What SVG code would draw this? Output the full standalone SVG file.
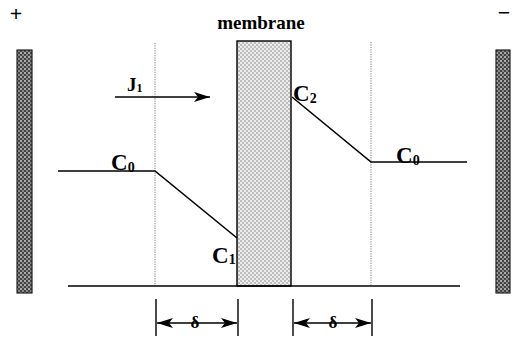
<svg xmlns="http://www.w3.org/2000/svg" width="514" height="344" viewBox="0 0 514 344">
<style>
.t{font-family:"Liberation Serif","Times New Roman",serif;font-weight:bold;fill:#000}
.ln{stroke:#000;stroke-width:1.6;fill:none}
.dot{stroke:#555;stroke-width:0.8;stroke-dasharray:1.2 1.2;fill:none}
.tk{stroke:#000;stroke-width:1.4}
</style>
<defs>
<pattern id="memb" width="4" height="4" patternUnits="userSpaceOnUse">
<rect width="4" height="4" fill="#ececec"/>
<circle cx="1" cy="1" r="0.65" fill="#666"/>
<circle cx="3" cy="3" r="0.65" fill="#666"/>
</pattern>
<pattern id="elec" width="4" height="4" patternUnits="userSpaceOnUse">
<rect width="4" height="4" fill="#444"/>
<circle cx="1" cy="1" r="1" fill="#ccc"/>
<circle cx="3" cy="3" r="0.9" fill="#aaa"/>
</pattern>
<marker id="ah" viewBox="0 0 16 10" refX="16" refY="5" markerWidth="16" markerHeight="10" markerUnits="userSpaceOnUse" orient="auto-start-reverse">
<path d="M0,0 L16,5 L0,10 L4,5 Z" fill="#000"/>
</marker>
</defs>

<g id="electrode-plus">
<rect x="17" y="50" width="15" height="243" fill="url(#elec)" stroke="#222" stroke-width="1.2"/>
<text class="t" x="16" y="21" font-size="22" text-anchor="middle">+</text>
</g>
<g id="electrode-minus">
<rect x="496" y="50" width="14" height="243" fill="url(#elec)" stroke="#222" stroke-width="1.2"/>
<text class="t" x="504" y="20" font-size="22" text-anchor="middle">−</text>
</g>

<g id="boundary-layers">
<line class="dot" x1="155" y1="43" x2="155" y2="286"/>
<line class="dot" x1="371" y1="42" x2="371" y2="286"/>
</g>

<g id="membrane">
<rect x="237" y="41" width="54" height="245" fill="url(#memb)" stroke="#000" stroke-width="1.4"/>
<text class="t" x="261" y="29" font-size="19" text-anchor="middle">membrane</text>
</g>

<g id="connectors">
<line class="ln" x1="68" y1="286" x2="460" y2="286"/>
<polyline class="ln" points="58,171 155,171 237,238"/>
<polyline class="ln" points="292,97 371,162 467,162"/>
<line class="ln" x1="115" y1="97" x2="210" y2="97" marker-end="url(#ah)"/>
<line class="tk" x1="156" y1="299" x2="156" y2="336"/>
<line class="tk" x1="238" y1="299" x2="238" y2="336"/>
<line class="tk" x1="293" y1="299" x2="293" y2="336"/>
<line class="tk" x1="372" y1="299" x2="372" y2="336"/>
<line class="ln" x1="157" y1="323" x2="237" y2="323" stroke-width="1.2" marker-start="url(#ah)" marker-end="url(#ah)"/>
<line class="ln" x1="294" y1="323" x2="371" y2="323" stroke-width="1.2" marker-start="url(#ah)" marker-end="url(#ah)"/>
</g>

<g id="labels">
<text class="t" x="127" y="91" font-size="19">J<tspan font-size="12" dy="1">1</tspan></text>
<text class="t" x="111" y="170" font-size="23">C<tspan font-size="14" dy="2">0</tspan></text>
<text class="t" x="396" y="163" font-size="23">C<tspan font-size="14" dy="2">0</tspan></text>
<text class="t" x="212" y="263" font-size="23">C<tspan font-size="14" dy="1">1</tspan></text>
<text class="t" x="293" y="101" font-size="23">C<tspan font-size="14" dy="2">2</tspan></text>
<text class="t" x="195" y="328" font-size="17" text-anchor="middle">δ</text>
<text class="t" x="333" y="328" font-size="17" text-anchor="middle">δ</text>
</g>
</svg>
